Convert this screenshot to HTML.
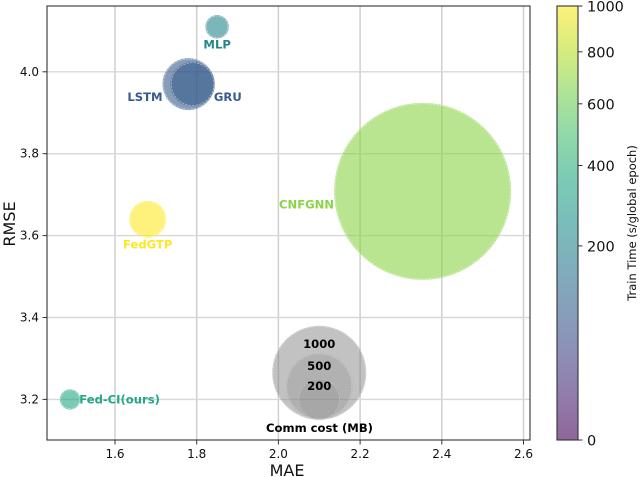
<!DOCTYPE html>
<html lang="en">
<head>
<meta charset="utf-8">
<title>Bubble chart of MAE vs RMSE</title>
<style>
html,body{margin:0;padding:0;background:#fff;}
#chart{display:block;width:640px;height:477px;font-family:"DejaVu Sans","Liberation Sans",sans-serif;}
</style>
</head>
<body>
<svg id="chart" xmlns="http://www.w3.org/2000/svg" width="640" height="477" viewBox="0 0 640 477"></svg>
<script>
// ---- data ----
const modelNames = ['CNFGNN', 'FedGTP', 'MLP', 'LSTM', 'GRU', 'Fed-CI(ours)'];
const maeValues = [2.353, 1.68, 1.85, 1.78, 1.79, 1.49];
const rmseValues = [3.708, 3.64, 4.11, 3.97, 3.97, 3.20];
const commCost = [3550, 155, 62, 306, 225, 47];
const trainTime = [680, 1000, 205, 82, 82, 355];
const labelSide = ['left', 'below', 'below', 'left', 'right', 'right'];
const labelDrop = [13, 7, 6, 13, 13, 0];

const legendCosts = [1000, 500, 200];
const legendMae = [2.1, 2.1, 2.1];
const legendRmse = [3.265, 3.232, 3.2];
const legendText = ['1000', '500', '200'];
const legendOpacity = [0.48, 0.25, 0.2];

const xTicks = [1.6, 1.8, 2.0, 2.2, 2.4, 2.6];
const xTickLabels = ['1.6', '1.8', '2.0', '2.2', '2.4', '2.6'];
const yTicks = [3.2, 3.4, 3.6, 3.8, 4.0];
const yTickLabels = ['3.2', '3.4', '3.6', '3.8', '4.0'];
const cbTicks = [0, 200, 400, 600, 800, 1000];
const cbTickLabels = ['0', '200', '400', '600', '800', '1000'];

// ---- layout & scales ----
const plot = {left: 47, right: 530, top: 6, bottom: 440};
const cbar = {left: 557, right: 578, top: 6, bottom: 440};
const xScale = v => 115 + (v - 1.6) * 408.5;
const yScale = v => 399.4 - (v - 3.2) * 409.5;
const rScale = c => 1.486 * Math.sqrt(c);
const norm = v => Math.sqrt(Math.max(0, Math.min(1000, v)) / 1000);
const cbScale = v => cbar.bottom - norm(v) * (cbar.bottom - cbar.top);

const viridisStops = [[68,1,84],[72,36,117],[65,68,135],[53,95,141],[42,120,142],[33,145,140],[34,168,132],[68,191,112],[122,209,81],[189,223,38],[253,231,37]];
function viridis(t) {
  const p = Math.max(0, Math.min(1, t)) * (viridisStops.length - 1);
  const i = Math.min(viridisStops.length - 2, Math.floor(p));
  const f = p - i;
  const a = viridisStops[i], b = viridisStops[i + 1];
  return 'rgb(' + a.map((c, k) => Math.round(c + (b[k] - c) * f)).join(',') + ')';
}

const svg = document.getElementById('chart');
const NS = 'http://www.w3.org/2000/svg';
function mk(tag, attrs, text) {
  const el = document.createElementNS(NS, tag);
  for (const k in attrs) el.setAttribute(k, attrs[k]);
  if (text !== undefined) el.textContent = text;
  svg.appendChild(el);
  return el;
}
const slug = s => s.toLowerCase().replace(/[^a-z0-9]+/g, '-').replace(/^-|-$/g, '');

// grid
xTicks.forEach((t, i) => {
  const el = mk('line', {x1: xScale(t), x2: xScale(t), y1: plot.top, y2: plot.bottom, stroke: '#cfcfcf', 'stroke-width': 1.5});
  
  
});
yTicks.forEach((t, i) => {
  const el = mk('line', {x1: plot.left, x2: plot.right, y1: yScale(t), y2: yScale(t), stroke: '#d8d8d8', 'stroke-width': 1.4});
  
  
});

// legend bubbles
legendCosts.forEach((c, i) => {
  const cx = xScale(legendMae[i]), cy = yScale(legendRmse[i]), r = rScale(c);
  const b = mk('circle', {cx: cx, cy: cy, r: r, fill: '#808080', 'fill-opacity': legendOpacity[i]});
  
  
  const e = mk('circle', {cx: cx, cy: cy, r: r - 0.7, fill: 'none', stroke: '#fff', 'stroke-opacity': 0.45, 'stroke-width': 0.6, 'stroke-dasharray': '2 1'});
  
  
  const t = mk('text', {x: cx, y: [344, 366, 386][i] + 4, 'text-anchor': 'middle', 'font-size': 11.6, 'font-weight': 'bold', fill: '#000'}, legendText[i]);
  
  
});
const commTitle = mk('text', {x: 319.5, y: 432, 'text-anchor': 'middle', 'font-size': 11.6, 'font-weight': 'bold', fill: '#000'}, 'Comm cost (MB)');



// bubbles
modelNames.forEach((name, i) => {
  const cx = xScale(maeValues[i]), cy = yScale(rmseValues[i]), r = rScale(commCost[i]);
  const col = viridis(norm(trainTime[i]));
  const b = mk('circle', {cx: cx, cy: cy, r: r, fill: col, 'fill-opacity': 0.6});
  
  
  const e = mk('circle', {cx: cx, cy: cy, r: Math.max(1, r - 0.9), fill: 'none', stroke: '#fff', 'stroke-opacity': 0.55, 'stroke-width': 0.7, 'stroke-dasharray': '2.5 1'});
  
  
  let lx = cx, anchor = 'middle', ly = cy + labelDrop[i];
  if (labelSide[i] === 'left') { lx = cx - r; anchor = 'end'; }
  else if (labelSide[i] === 'right') { lx = cx + r - 1; anchor = 'start'; }
  else { ly = cy + r + labelDrop[i]; }
  const t = mk('text', {x: lx, y: ly + 4, 'text-anchor': anchor, 'font-size': 11.6, 'font-weight': 'bold', fill: col}, name);
  
  
});

// axes frame
const frame = mk('rect', {x: plot.left, y: plot.top, width: plot.right - plot.left, height: plot.bottom - plot.top, fill: 'none', stroke: '#333', 'stroke-width': 1.1});



// x ticks
xTicks.forEach((t, i) => {
  const x = xScale(t);
  const m = mk('line', {x1: x, x2: x, y1: plot.bottom, y2: plot.bottom + 4.5, stroke: '#333', 'stroke-width': 1});
  
  
  const l = mk('text', {x: x, y: plot.bottom + 18, 'text-anchor': 'middle', 'font-size': 12, fill: '#111'}, xTickLabels[i]);
  
  
});
// y ticks
yTicks.forEach((t, i) => {
  const y = yScale(t);
  const m = mk('line', {x1: plot.left - 4.5, x2: plot.left, y1: y, y2: y, stroke: '#333', 'stroke-width': 1});
  
  
  const l = mk('text', {x: plot.left - 8, y: y + 4, 'text-anchor': 'end', 'font-size': 12, fill: '#111'}, yTickLabels[i]);
  
  
});
const xTitle = mk('text', {x: 287, y: 476, 'text-anchor': 'middle', 'font-size': 16, fill: '#111'}, 'MAE');


const yTitle = mk('text', {x: 0, y: 0, 'text-anchor': 'middle', 'font-size': 16, fill: '#111', transform: 'translate(15 224) rotate(-90)'}, 'RMSE');



// colorbar
for (let y = cbar.top; y < cbar.bottom; y++) {
  const t = (cbar.bottom - y - 0.5) / (cbar.bottom - cbar.top);
  const s = mk('rect', {x: cbar.left, y: y, width: cbar.right - cbar.left, height: 1, fill: viridis(t), 'fill-opacity': 0.6});
  
  
}
const cbFrame = mk('rect', {x: cbar.left, y: cbar.top, width: cbar.right - cbar.left, height: cbar.bottom - cbar.top, fill: 'none', stroke: '#333', 'stroke-width': 1.1});


cbTicks.forEach((t, i) => {
  const y = cbScale(t);
  const m = mk('line', {x1: cbar.right, x2: cbar.right + 4.5, y1: y, y2: y, stroke: '#333', 'stroke-width': 1});
  
  
  const l = mk('text', {x: cbar.right + 9, y: y + 5.5, 'font-size': 14.5, fill: '#111'}, cbTickLabels[i]);
  
  
});
const cbTitle = mk('text', {x: 0, y: 0, 'text-anchor': 'middle', 'font-size': 11.5, fill: '#111', transform: 'translate(636 223) rotate(-90)'}, 'Train Time (s/global epoch)');


</script>
</body>
</html>
